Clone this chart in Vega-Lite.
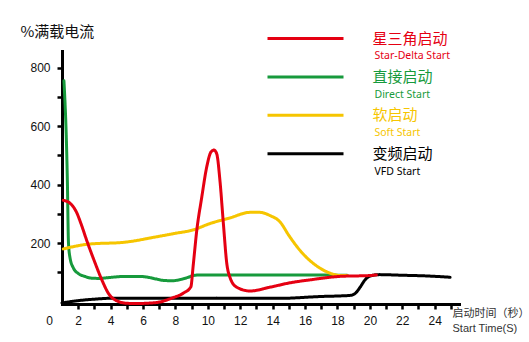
{
  "$schema": "https://vega.github.io/schema/vega-lite/v6.json",
  "width": 397,
  "height": 253,
  "autosize": {"type": "none"},
  "padding": {"left": 62, "top": 51, "right": 70, "bottom": 38},
  "background": "white",
  "config": {"view": {"stroke": null}},
  "data": {
    "values": [
      {"zh": "直接启动", "en": "Direct Start", "t": 1.12, "v": 755},
      {"zh": "直接启动", "en": "Direct Start", "t": 1.33, "v": 416},
      {"zh": "直接启动", "en": "Direct Start", "t": 1.4, "v": 200},
      {"zh": "直接启动", "en": "Direct Start", "t": 1.5, "v": 148},
      {"zh": "直接启动", "en": "Direct Start", "t": 1.7, "v": 115},
      {"zh": "直接启动", "en": "Direct Start", "t": 2.0, "v": 96},
      {"zh": "直接启动", "en": "Direct Start", "t": 2.4, "v": 86},
      {"zh": "直接启动", "en": "Direct Start", "t": 2.8, "v": 80},
      {"zh": "直接启动", "en": "Direct Start", "t": 3.3, "v": 79},
      {"zh": "直接启动", "en": "Direct Start", "t": 3.9, "v": 82},
      {"zh": "直接启动", "en": "Direct Start", "t": 4.9, "v": 86},
      {"zh": "直接启动", "en": "Direct Start", "t": 5.8, "v": 86},
      {"zh": "直接启动", "en": "Direct Start", "t": 6.3, "v": 83},
      {"zh": "直接启动", "en": "Direct Start", "t": 6.8, "v": 77},
      {"zh": "直接启动", "en": "Direct Start", "t": 7.3, "v": 72},
      {"zh": "直接启动", "en": "Direct Start", "t": 7.8, "v": 71},
      {"zh": "直接启动", "en": "Direct Start", "t": 8.3, "v": 75},
      {"zh": "直接启动", "en": "Direct Start", "t": 8.8, "v": 83},
      {"zh": "直接启动", "en": "Direct Start", "t": 9.1, "v": 89},
      {"zh": "直接启动", "en": "Direct Start", "t": 9.6, "v": 91},
      {"zh": "直接启动", "en": "Direct Start", "t": 12, "v": 91},
      {"zh": "直接启动", "en": "Direct Start", "t": 15, "v": 91},
      {"zh": "直接启动", "en": "Direct Start", "t": 18.6, "v": 90},
      {"zh": "软启动", "en": "Soft Start", "t": 1.08, "v": 180},
      {"zh": "软启动", "en": "Soft Start", "t": 2.6, "v": 196},
      {"zh": "软启动", "en": "Soft Start", "t": 4.9, "v": 203},
      {"zh": "软启动", "en": "Soft Start", "t": 6.7, "v": 220},
      {"zh": "软启动", "en": "Soft Start", "t": 7.97, "v": 233},
      {"zh": "软启动", "en": "Soft Start", "t": 9.1, "v": 245},
      {"zh": "软启动", "en": "Soft Start", "t": 10.1, "v": 266},
      {"zh": "软启动", "en": "Soft Start", "t": 11.37, "v": 286},
      {"zh": "软启动", "en": "Soft Start", "t": 12.6, "v": 305},
      {"zh": "软启动", "en": "Soft Start", "t": 13.2, "v": 305},
      {"zh": "软启动", "en": "Soft Start", "t": 13.84, "v": 294},
      {"zh": "软启动", "en": "Soft Start", "t": 14.46, "v": 272},
      {"zh": "软启动", "en": "Soft Start", "t": 15.0, "v": 226},
      {"zh": "软启动", "en": "Soft Start", "t": 15.7, "v": 174},
      {"zh": "软启动", "en": "Soft Start", "t": 16.3, "v": 140},
      {"zh": "软启动", "en": "Soft Start", "t": 16.9, "v": 115},
      {"zh": "软启动", "en": "Soft Start", "t": 17.54, "v": 97},
      {"zh": "软启动", "en": "Soft Start", "t": 18.16, "v": 89},
      {"zh": "软启动", "en": "Soft Start", "t": 18.6, "v": 89},
      {"zh": "变频启动", "en": "VFD Start", "t": 1.0, "v": -5},
      {"zh": "变频启动", "en": "VFD Start", "t": 2.0, "v": 3},
      {"zh": "变频启动", "en": "VFD Start", "t": 3.0, "v": 8},
      {"zh": "变频启动", "en": "VFD Start", "t": 4.0, "v": 11},
      {"zh": "变频启动", "en": "VFD Start", "t": 8.0, "v": 11},
      {"zh": "变频启动", "en": "VFD Start", "t": 14.5, "v": 11},
      {"zh": "变频启动", "en": "VFD Start", "t": 16.9, "v": 17},
      {"zh": "变频启动", "en": "VFD Start", "t": 18.8, "v": 21},
      {"zh": "变频启动", "en": "VFD Start", "t": 19.1, "v": 28},
      {"zh": "变频启动", "en": "VFD Start", "t": 19.4, "v": 49},
      {"zh": "变频启动", "en": "VFD Start", "t": 19.7, "v": 74},
      {"zh": "变频启动", "en": "VFD Start", "t": 20.0, "v": 87},
      {"zh": "变频启动", "en": "VFD Start", "t": 20.6, "v": 92},
      {"zh": "变频启动", "en": "VFD Start", "t": 21.9, "v": 90},
      {"zh": "变频启动", "en": "VFD Start", "t": 23.7, "v": 87},
      {"zh": "变频启动", "en": "VFD Start", "t": 24.95, "v": 83},
      {"zh": "星三角启动", "en": "Star-Delta Start", "t": 1.08, "v": 346},
      {"zh": "星三角启动", "en": "Star-Delta Start", "t": 1.5, "v": 336},
      {"zh": "星三角启动", "en": "Star-Delta Start", "t": 1.9, "v": 305},
      {"zh": "星三角启动", "en": "Star-Delta Start", "t": 2.2, "v": 262},
      {"zh": "星三角启动", "en": "Star-Delta Start", "t": 2.55, "v": 205},
      {"zh": "星三角启动", "en": "Star-Delta Start", "t": 3.0, "v": 138},
      {"zh": "星三角启动", "en": "Star-Delta Start", "t": 3.45, "v": 75},
      {"zh": "星三角启动", "en": "Star-Delta Start", "t": 3.9, "v": 25},
      {"zh": "星三角启动", "en": "Star-Delta Start", "t": 4.4, "v": 2},
      {"zh": "星三角启动", "en": "Star-Delta Start", "t": 5.0, "v": -6},
      {"zh": "星三角启动", "en": "Star-Delta Start", "t": 5.6, "v": -7},
      {"zh": "星三角启动", "en": "Star-Delta Start", "t": 6.2, "v": -6},
      {"zh": "星三角启动", "en": "Star-Delta Start", "t": 7.0, "v": -2},
      {"zh": "星三角启动", "en": "Star-Delta Start", "t": 7.8, "v": 12},
      {"zh": "星三角启动", "en": "Star-Delta Start", "t": 8.5, "v": 29},
      {"zh": "星三角启动", "en": "Star-Delta Start", "t": 8.95, "v": 50},
      {"zh": "星三角启动", "en": "Star-Delta Start", "t": 9.1, "v": 125},
      {"zh": "星三角启动", "en": "Star-Delta Start", "t": 9.31, "v": 240},
      {"zh": "星三角启动", "en": "Star-Delta Start", "t": 9.62, "v": 355},
      {"zh": "星三角启动", "en": "Star-Delta Start", "t": 9.93, "v": 460},
      {"zh": "星三角启动", "en": "Star-Delta Start", "t": 10.2, "v": 512},
      {"zh": "星三角启动", "en": "Star-Delta Start", "t": 10.38, "v": 518},
      {"zh": "星三角启动", "en": "Star-Delta Start", "t": 10.55, "v": 505},
      {"zh": "星三角启动", "en": "Star-Delta Start", "t": 10.75, "v": 412},
      {"zh": "星三角启动", "en": "Star-Delta Start", "t": 10.96, "v": 266},
      {"zh": "星三角启动", "en": "Star-Delta Start", "t": 11.17, "v": 130},
      {"zh": "星三角启动", "en": "Star-Delta Start", "t": 11.37, "v": 82},
      {"zh": "星三角启动", "en": "Star-Delta Start", "t": 11.78, "v": 49},
      {"zh": "星三角启动", "en": "Star-Delta Start", "t": 12.6, "v": 36},
      {"zh": "星三角启动", "en": "Star-Delta Start", "t": 13.84, "v": 49},
      {"zh": "星三角启动", "en": "Star-Delta Start", "t": 15.07, "v": 64},
      {"zh": "星三角启动", "en": "Star-Delta Start", "t": 16.3, "v": 74},
      {"zh": "星三角启动", "en": "Star-Delta Start", "t": 18.16, "v": 86},
      {"zh": "星三角启动", "en": "Star-Delta Start", "t": 20.0, "v": 89},
      {"zh": "星三角启动", "en": "Star-Delta Start", "t": 20.4, "v": 91}
    ]
  },
  "mark": {"type": "line", "interpolate": "monotone", "strokeCap": "round", "strokeJoin": "round"},
  "encoding": {
    "x": {
      "field": "t", "type": "quantitative",
      "scale": {"domain": [1, 25.5], "nice": false, "zero": false},
      "axis": {
        "values": [2,3,4,5,6,7,8,9,10,11,12,13,14,15,16,17,18,19,20,21,22,23,24,25],
        "labelExpr": "datum.value % 2 === 0 ? datum.label : ''",
        "grid": false,
        "domainColor": "#000", "domainWidth": 3, "domainCap": "square",
        "tickColor": "#000", "tickWidth": 2.5, "tickSize": 5,
        "labelFont": "Liberation Sans", "labelFontSize": 12, "labelColor": "#111",
        "labelPadding": 6, "labelFlush": false, "labelOverlap": false,
        "title": ["启动时间（秒）", "Start Time(S)"],
        "titleFont": "Liberation Sans, Noto Sans CJK SC", "titleFontSize": 11, "titleFontWeight": "normal",
        "titleColor": "#333", "titleAlign": "left", "titleBaseline": "top",
        "titleX": 390, "titleY": 3.5, "titleLineHeight": 15
      }
    },
    "y": {
      "field": "v", "type": "quantitative",
      "scale": {"domain": [-8.5, 857], "nice": false, "zero": false},
      "axis": {
        "values": [0,100,200,300,400,500,600,700,800],
        "labelExpr": "datum.value % 200 === 0 ? datum.label : ''",
        "grid": false,
        "domainColor": "#000", "domainWidth": 3, "domainCap": "square",
        "tickColor": "#000", "tickWidth": 2.5, "tickSize": 5,
        "tickOpacity": {"condition": {"test": "datum.value === 0", "value": 0}, "value": 1},
        "labelFont": "Liberation Sans", "labelFontSize": 12, "labelColor": "#111",
        "labelPadding": {"condition": {"test": "datum.value === 0", "value": 4.5}, "value": 7},
        "labelOffset": {"condition": {"test": "datum.value === 0", "value": 19}, "value": 0},
        "title": "%满载电流", "titleAngle": 0, "titleAlign": "left", "titleBaseline": "middle",
        "titleX": -42, "titleY": -20, "titleFont": "Noto Sans CJK SC", "titleFontSize": 15,
        "titleFontWeight": "normal", "titleColor": "#111"
      }
    },
    "color": {
      "field": "zh", "type": "nominal",
      "scale": {"domain": ["星三角启动", "直接启动", "软启动", "变频启动"], "range": ["#e50012", "#179a3c", "#f6c500", "#000000"]},
      "legend": {
        "orient": "none", "legendX": 236, "legendY": -20, "title": null,
        "symbolType": "M-7.6,0H7.6", "symbolSize": 100, "symbolStrokeWidth": 3,
        "labelFont": "Noto Sans CJK SC", "labelFontSize": 15, "labelOffset": 59.5,
        "rowPadding": 22.4, "padding": 0, "labelLimit": 300,
        "encode": {"labels": {"update": {"fill": {"scale": "color", "field": "value"}}}}
      }
    },
    "strokeDash": {
      "field": "en", "type": "nominal",
      "scale": {"domain": ["Star-Delta Start", "Direct Start", "Soft Start", "VFD Start"], "range": [[1, 0], [1, 0], [1, 0], [1, 0]]},
      "legend": {
        "orient": "none", "legendX": 302, "legendY": 0, "title": null,
        "symbolSize": 0, "symbolOpacity": 0, "symbolStrokeWidth": 0,
        "labelFont": "Noto Sans", "labelFontSize": 10.5, "labelOffset": 0,
        "rowPadding": 27.6, "padding": 0, "labelLimit": 300,
        "encode": {"labels": {"update": {"fill": {"signal": "datum.value === 'Star-Delta Start' ? '#e50012' : datum.value === 'Direct Start' ? '#179a3c' : datum.value === 'Soft Start' ? '#f6c500' : '#000000'"}}}}
      }
    },
    "strokeWidth": {
      "field": "zh", "type": "nominal",
      "scale": {"domain": ["星三角启动", "直接启动", "软启动", "变频启动"], "range": [3, 3, 3, 2]},
      "legend": null
    }
  }
}
